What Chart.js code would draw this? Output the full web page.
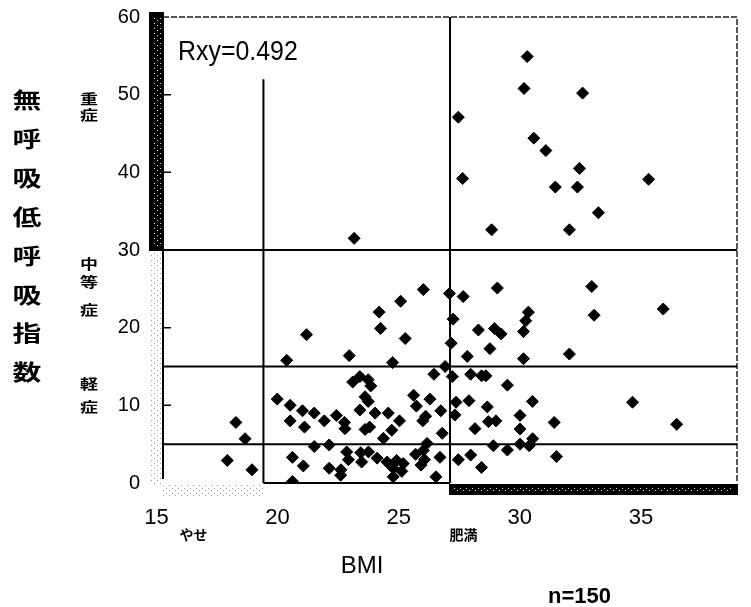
<!DOCTYPE html>
<html>
<head>
<meta charset="utf-8">
<script src="https://cdn.jsdelivr.net/npm/chart.js@4/dist/chart.umd.min.js"></script>
<style>
  html, body { margin: 0; padding: 0; background: #fff; }
  #wrap { width: 751px; height: 607px; position: relative; }
</style>
</head>
<body>
<div id="wrap"><canvas id="chart"></canvas></div>
<script>
// BMI (x) and apnea-hypopnea index (y)
const bmi = [
  27.69, 27.58, 29.62, 25.29, 27.92, 28.34, 29.51, 25.44, 28.67, 29.44, 31.92, 30.17, 26.45, 29.16, 21.66,
  24.07, 24.98, 23.28, 22.53, 22.58, 20.00, 23.44, 25.04, 19.31, 21.49, 23.00, 24.83, 25.46, 26.65, 29.94,
  30.02, 25.11, 27.73, 27.64, 25.99, 26.55, 26.78, 27.56, 26.39, 25.60, 27.56, 29.16, 32.43,
  24.44, 21.86, 21.61, 22.15, 22.24, 25.08, 18.98, 19.43, 19.86, 20.27, 21.04, 22.04, 22.15, 21.86, 22.39,
  22.85, 23.73, 23.83, 24.30, 24.68, 24.15, 24.05, 25.21, 25.17, 19.43, 19.93, 20.62, 21.32, 21.34, 22.04,
  22.20, 23.24, 22.97, 22.68, 24.73, 20.27, 20.79, 24.20, 17.54, 17.86, 25.72, 26.10, 26.25, 27.00, 25.66,
  26.30, 27.87, 26.34, 26.60, 27.44, 28.63, 25.87, 27.44, 31.36, 32.90, 27.88,
  19.51, 19.89, 20.79, 21.40, 21.46, 21.20, 21.19, 21.89, 22.16, 21.92, 22.46, 22.81, 23.14, 23.37, 23.02,
  23.32, 23.02, 23.80, 24.07, 24.11, 23.99, 24.65, 24.51, 25.29, 19.51, 17.24, 18.10, 26.51, 27.00, 27.44,
  27.76, 25.72, 26.10, 28.71
];
const ahi = [
  54.9, 50.8, 50.2, 47.1, 44.4, 42.8, 40.5, 39.2, 38.1, 38.1, 39.1, 34.8, 32.6, 32.6, 31.5,
  24.9, 24.4, 23.4, 22.0, 19.9, 19.1, 18.6, 18.0, 15.8, 16.4, 15.5, 15.0, 24.0, 25.1, 25.3,
  21.6, 21.1, 22.0, 20.9, 19.7, 19.9, 19.2, 19.5, 17.3, 16.3, 16.0, 16.6, 22.4,
  14.0, 13.7, 13.0, 13.3, 12.5, 13.7, 10.8, 10.0, 9.3, 9.0, 8.7, 11.1, 10.5, 9.4, 9.0,
  9.0, 11.3, 9.9, 10.8, 9.3, 8.6, 8.0, 10.4, 8.75, 8.0, 7.2, 8.0, 7.8, 7.0, 6.9,
  7.2, 8.0, 6.8, 5.75, 6.4, 4.7, 4.9, 5.1, 7.8, 5.7, 14.0, 13.8, 13.8, 12.6, 10.6,
  9.8, 10.5, 7.9, 8.0, 8.7, 7.8, 7.0, 6.95, 10.4, 7.55, 5.7,
  3.3, 2.2, 1.9, 4.0, 3.0, 1.7, 1.0, 3.9, 4.0, 2.7, 3.2, 2.7, 2.9, 2.5, 1.9,
  1.5, 0.8, 3.7, 4.2, 3.0, 2.3, 3.3, 0.8, 3.0, 0.2, 2.9, 1.7, 4.8, 4.25, 5.0,
  4.8, 3.6, 2.0, 3.4
];

const yTicks = [0, 10, 20, 30, 40, 50, 60];
const xTickLabels = [15, 20, 25, 30, 35];
const ahiCuts = [5, 15, 30];        // 軽症 / 中等症 / 重症 borders
const bmiCuts = [18.5, 25];         // やせ / 肥満 borders
const leanLineTop = 52;             // the 18.5 line stops short of the top

const yTitle = "無呼吸低呼吸指数";
const severityLabels = ["重症", "中等症", "軽症"];
const bmiClassLabels = ["やせ", "肥満"];
const xTitle = "BMI";
const rxyText = "Rxy=0.492";
const nText = "n=150";

const points = bmi.map((v, i) => ({ x: v, y: ahi[i] }));

function drawText(ctx, s, x, y, font, opts) {
  opts = opts || {};
  ctx.save();
  ctx.translate(x, y);
  ctx.scale(opts.sx || 1, opts.sy || 1);
  ctx.font = font;
  ctx.fillStyle = "#000";
  ctx.textAlign = opts.align || "left";
  ctx.textBaseline = opts.baseline || "alphabetic";
  ctx.fillText(s, 0, 0);
  ctx.restore();
}

function dotPattern(ctx, bg, dot) {
  const pc = document.createElement("canvas");
  pc.width = 6; pc.height = 5;
  const p = pc.getContext("2d");
  if (bg) { p.fillStyle = bg; p.fillRect(0, 0, 6, 5); }
  p.fillStyle = dot;
  p.fillRect(1, 0, 1, 1);
  p.fillRect(4, 3, 1, 1);
  return ctx.createPattern(pc, "repeat");
}

// no extra room for half tick labels: the plot box is fixed like the scan
function noPad(s) {
  s.paddingTop = 0; s.paddingBottom = 0; s.paddingLeft = 0; s.paddingRight = 0;
}

// frame, band bars and category lines, drawn under the markers
const framePlugin = {
  id: "frame",
  beforeDatasetsDraw(chart) {
    const { ctx, chartArea: a, scales } = chart;
    const x = scales.x, y = scales.y;
    const y30 = y.getPixelForValue(ahiCuts[2]);
    const x25 = x.getPixelForValue(bmiCuts[1]);
    const x185 = x.getPixelForValue(bmiCuts[0]);
    ctx.save();

    // grey stipple for the non-highlighted parts of the axes
    ctx.fillStyle = dotPattern(ctx, null, "#9a9a9a");
    ctx.fillRect(a.left - 14, y30 + 2, 12, a.bottom - y30);
    ctx.fillRect(a.left, a.bottom + 2, x185 - a.left, 13);

    // black bars: 重症 on the y axis, 肥満 on the x axis
    ctx.fillStyle = "#000";
    ctx.fillRect(a.left - 14, a.top - 5, 15, y30 - a.top + 6);
    ctx.fillRect(x25 - 1, a.bottom + 1, a.right - x25 + 2, 11);
    ctx.fillStyle = dotPattern(ctx, null, "#ddd");
    ctx.fillRect(a.left - 11, a.top, 9, y30 - a.top - 4);
    ctx.fillRect(x25 + 4, a.bottom + 4, a.right - x25 - 8, 5);

    // top and right border (broken, like the scan)
    ctx.strokeStyle = "#222";
    ctx.lineWidth = 1.5;
    ctx.setLineDash([6, 2]);
    ctx.beginPath();
    ctx.moveTo(a.left, a.top);
    ctx.lineTo(a.right, a.top);
    ctx.lineTo(a.right, a.bottom);
    ctx.stroke();
    ctx.setLineDash([]);

    ctx.strokeStyle = "#000";
    ctx.lineWidth = 2;
    ctx.beginPath();
    // left axis below the black bar
    ctx.moveTo(a.left, y30);
    ctx.lineTo(a.left, a.bottom - 4);
    // bottom axis between 18.5 and 25
    ctx.moveTo(x185, a.bottom);
    ctx.lineTo(x25, a.bottom);
    // severity borders
    ahiCuts.forEach(v => {
      const py = y.getPixelForValue(v);
      ctx.moveTo(a.left, py);
      ctx.lineTo(a.right, py);
    });
    // BMI borders
    ctx.moveTo(x25, a.top);
    ctx.lineTo(x25, a.bottom);
    ctx.moveTo(x185, y.getPixelForValue(leanLineTop));
    ctx.lineTo(x185, a.bottom);
    ctx.stroke();

    // small inward ticks on the y axis
    ctx.lineWidth = 1.5;
    ctx.beginPath();
    yTicks.forEach(v => {
      if (v === 0 || v === 60) return;
      const py = y.getPixelForValue(v);
      ctx.moveTo(a.left, py);
      ctx.lineTo(a.left + 8, py);
    });
    ctx.stroke();
    ctx.restore();
  },
  afterDraw(chart) {
    const { ctx, chartArea: a } = chart;
    drawText(ctx, rxyText, a.left + 15, a.top + 43, "28px 'Liberation Sans', Arial", { sx: 0.89 });

    const cjk = "'Noto Sans CJK JP', sans-serif";
    [...yTitle].forEach((ch, i) => {
      drawText(ctx, ch, 27, 100 + i * 38.9, "bold 24px " + cjk,
        { align: "center", baseline: "middle", sx: 1.2, sy: 0.88 });
    });

    const sevY = [[98.5, 114.5], [263.5, 281.5, 310], [383.5, 406.5]];
    severityLabels.forEach((s, k) => {
      [...s].forEach((ch, i) => {
        drawText(ctx, ch, 89, sevY[k][i], "bold 15px " + cjk,
          { align: "center", baseline: "middle", sx: 1.2, sy: 0.9 });
      });
    });

    drawText(ctx, bmiClassLabels[0], 193.5, 535, "bold 14px " + cjk, { align: "center", baseline: "middle" });
    drawText(ctx, bmiClassLabels[1], 463.5, 535, "bold 14px " + cjk, { align: "center", baseline: "middle" });
    drawText(ctx, xTitle, 362, 573, "24px 'Liberation Sans', Arial", { align: "center" });
    drawText(ctx, nText, 548, 603, "bold 22px 'Liberation Sans', Arial");
  }
};

const ctx = document.getElementById("chart").getContext("2d");
const chart = new Chart(ctx, {
  type: "scatter",
  data: {
    datasets: [{
      data: points,
      pointStyle: "rectRot",
      pointRadius: 6,
      pointBorderWidth: 1,
      backgroundColor: "#000",
      borderColor: "#000"
    }]
  },
  options: {
    responsive: true,
    maintainAspectRatio: false,
    animation: false,
    devicePixelRatio: 1,
    layout: { padding: { top: 17, right: 14, left: 0, bottom: 0 } },
    plugins: { legend: { display: false }, tooltip: { enabled: false } },
    scales: {
      x: { type: "linear", min: 15, max: 35, display: false },
      // tick labels of the scan sit off the data grid; a separate axis carries them
      xl: {
        type: "linear",
        position: "bottom",
        min: 15.268,
        max: 38.968,
        afterBuildTicks: s => { s.ticks = xTickLabels.map(v => ({ value: v })); },
        afterFit: s => { s.height = 124; noPad(s); },
        grid: { display: false, drawTicks: false },
        border: { display: false },
        ticks: {
          color: "#000",
          padding: 22,
          maxRotation: 0,
          autoSkip: false,
          font: { family: "'Liberation Sans', Arial", size: 22 }
        }
      },
      y: {
        type: "linear",
        min: 0,
        max: 60,
        afterBuildTicks: s => { s.ticks = yTicks.map(v => ({ value: v })); },
        afterFit: s => { s.width = 163; noPad(s); },
        grid: { display: false, drawTicks: false },
        border: { display: false },
        ticks: {
          color: "#000",
          padding: 23,
          font: { family: "'Liberation Sans', Arial", size: 20 }
        }
      }
    }
  },
  plugins: [framePlugin]
});
</script>
</body>
</html>
